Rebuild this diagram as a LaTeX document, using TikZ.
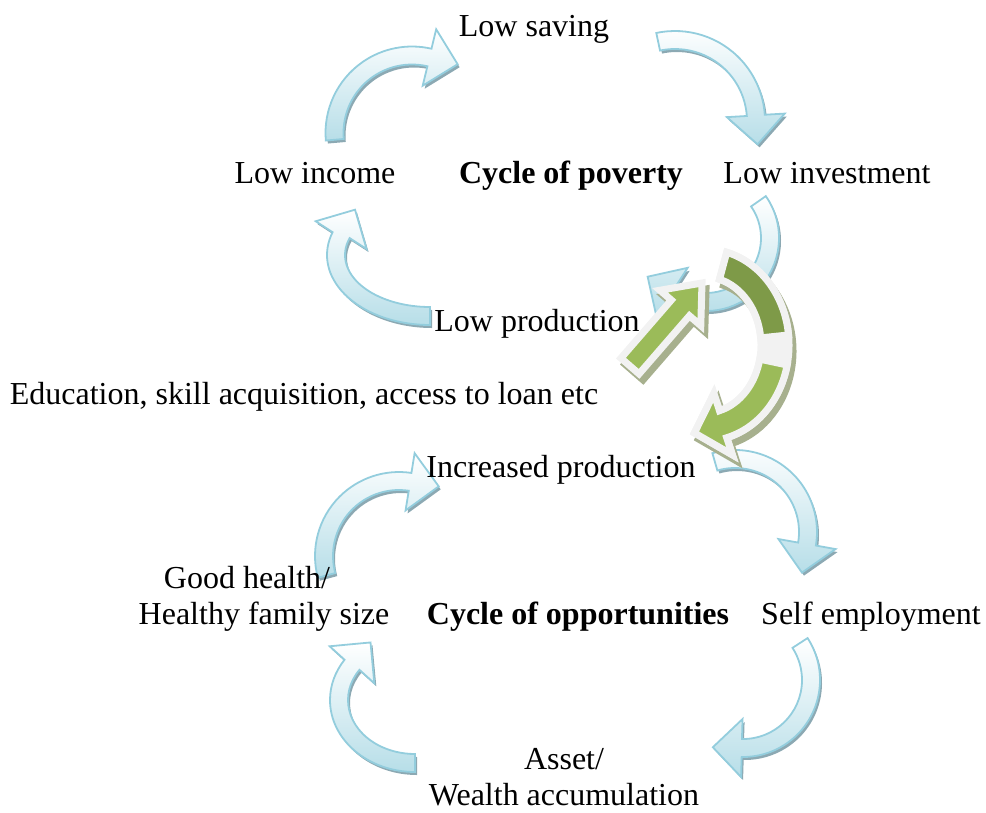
\documentclass[tikz,border=0pt]{standalone}
\usepackage{fontspec}
\setmainfont{Liberation Serif}
\usetikzlibrary{calc}
\definecolor{aqua}{HTML}{93CDDD}
\definecolor{aquafill}{HTML}{B7DEE8}
\definecolor{aquashade}{HTML}{8CA9B3}
\definecolor{olive}{HTML}{7E9A48}
\definecolor{leaf}{HTML}{9BBB59}
\definecolor{rim}{HTML}{F2F2F2}
\definecolor{leafshade}{HTML}{A7B08E}
\tikzset{
  lab/.style={font=\fontsize{32}{36}\selectfont, inner sep=0pt},
  bold/.style={font=\fontsize{32}{36}\selectfont\bfseries, inner sep=0pt},
  bluebody/.style={draw=aqua, line width=1.8pt, top color=white, bottom color=aquafill, line join=miter},
  blueshadow/.style={fill=aquashade},
  greenrim/.style={fill=rim, draw=rim, line width=7pt, line join=miter},
  greenbody/.style={fill=leaf, draw=rim, line width=7pt, line join=miter},
  greentop/.style={fill=olive, draw=rim, line width=7pt, line join=miter},
  greenshadow/.style={fill=leafshade, draw=leafshade, line width=7pt, line join=miter},
}
% band half width, head half width, head length
\def\bw{9}\def\hw{29pt}\def\hl{29pt}
% curved block arrow: style, cx, cy, rx, ry, tail angle, head base angle (clockwise)
\newcommand{\cyclearrow}[7]{%
  \begin{scope}[shift={(#2,#3)}]
    \pgfmathsetmacro{\rxo}{#4+\bw}\pgfmathsetmacro{\ryo}{#5+\bw}
    \pgfmathsetmacro{\rxi}{#4-\bw}\pgfmathsetmacro{\ryi}{#5-\bw}
    \pgfmathsetmacro{\tn}{#7-1}
    \coordinate (hb) at (#7:{#4} and {#5});
    \coordinate (hn) at (\tn:{#4} and {#5});
    \path[#1] (#6:{\rxo} and {\ryo}) arc[start angle=#6, end angle=#7, x radius=\rxo, y radius=\ryo]
      -- ($(hb)!\hw!90:(hn)$) -- ($(hb)!\hl!(hn)$) -- ($(hb)!\hw!-90:(hn)$)
      -- (#7:{\rxi} and {\ryi}) arc[start angle=#7, end angle=#6, x radius=\rxi, y radius=\ryi] -- cycle;
  \end{scope}}
\newcommand{\bluearrow}[6]{%
  \begin{scope}[shift={(2,-3)}]\cyclearrow{blueshadow}{#1}{#2}{#3}{#4}{#5}{#6}\end{scope}
  \cyclearrow{bluebody}{#1}{#2}{#3}{#4}{#5}{#6}}
% straight push arrow from tail to tip
\newcommand{\pusharrow}[1]{%
  \coordinate (pushtail) at (630,-366);
  \coordinate (pushtip) at (702,-283);
  \coordinate (pushbase) at ($(pushtip)!33pt!(pushtail)$);
  \path[#1] ($(pushtail)!12pt!90:(pushtip)$) -- ($(pushbase)!12pt!90:(pushtip)$)
    -- ($(pushbase)!27pt!90:(pushtip)$) -- (pushtip) -- ($(pushbase)!27pt!-90:(pushtip)$)
    -- ($(pushbase)!12pt!-90:(pushtip)$) -- ($(pushtail)!12pt!-90:(pushtip)$) -- cycle;}

\begin{document}
\begin{tikzpicture}[x=1pt, y=1pt]
  \useasboundingbox (0,0) rectangle (986,-812);

  % cycle of poverty
  \bluearrow{412}{-133}{77.5}{77.5}{185}{77}
  \bluearrow{675}{-121}{81}{81}{102}{4}
  \bluearrow{706}{-238}{64}{64}{35}{-122}
  \bluearrow{430}{-255}{94}{61}{270}{161}

  % cycle of opportunities
  \bluearrow{399}{-556}{75}{75}{195}{81.5}
  \bluearrow{735}{-532}{73}{73}{106}{-9.5}
  \bluearrow{743}{-680}{68}{68}{33}{-91}
  \bluearrow{415}{-700}{76}{63}{270}{146}

  % way out
  \def\bw{14}\def\hw{32pt}\def\hl{30pt}
  \begin{scope}[shift={(4,-6)}]\cyclearrow{greenshadow}{705}{-345}{70}{82}{75}{-75}\end{scope}
  \cyclearrow{greenrim}{705}{-345}{70}{82}{75}{-75}
  \cyclearrow{greenbody}{705}{-345}{70}{82}{-12}{-75}
  \begin{scope}[shift={(705,-345)}]
    \path[greentop] (75:84 and 96) arc[start angle=75, end angle=6, x radius=84, y radius=96]
      -- (6:56 and 68) arc[start angle=6, end angle=75, x radius=56, y radius=68] -- cycle;
  \end{scope}
  \begin{scope}[shift={(4,-6)}]\pusharrow{greenshadow}\end{scope}
  \pusharrow{greenbody}

  \node[lab, anchor=base] (saving) at (534,-36) {Low saving};
  \node[lab, anchor=base] (income) at (315,-183) {Low income};
  \node[bold, anchor=base] (poverty) at (571,-183) {Cycle of poverty};
  \node[lab, anchor=base] (investment) at (827,-183) {Low investment};
  \node[lab, anchor=base] (production) at (537,-331) {Low production};
  \node[lab, anchor=base] (education) at (304,-404) {Education, skill acquisition, access to loan etc};
  \node[lab, anchor=base] (increased) at (561,-477) {Increased production};
  \node[lab, align=center] (health) at (264,-599) {Good health/\hspace*{34pt}\\Healthy family size};
  \node[bold, anchor=base] (opportunities) at (578,-624) {Cycle of opportunities};
  \node[lab, anchor=base] (selfemp) at (871,-624) {Self employment};
  \node[lab, align=center] (asset) at (564,-777) {Asset/\\Wealth accumulation};
\end{tikzpicture}
\end{document}
